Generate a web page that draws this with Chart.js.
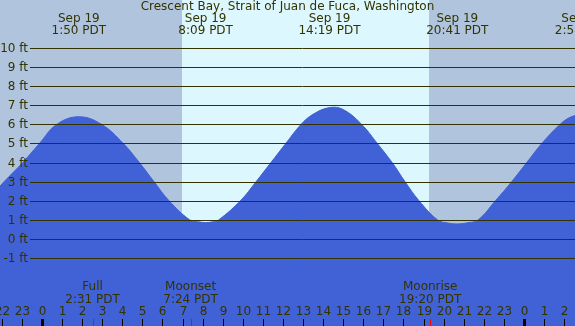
<!DOCTYPE html>
<html>
<head>
<meta charset="utf-8">
<script src="https://cdn.jsdelivr.net/npm/chart.js@4"></script>
<style>
  body { margin: 0; background: #fff; }
  canvas { display: block; }
</style>
</head>
<body>
<canvas id="tideChart" width="575" height="326"></canvas>
<script>
// tide curve (hours after midnight Sep 19, feet)
var tideHours = [-2.1, -1.89, -0.96, -0.13, 0.73, 1.84, 2.97, 4.05, 4.85, 5.58, 6.33, 7.36, 7.8, 8.15, 8.5, 8.8, 9.88, 10.66, 11.4, 12.14, 12.9, 13.5, 14.32, 15.0, 15.92, 16.7, 17.44, 18.08, 18.78, 19.7, 20.2, 20.7, 21.2, 21.72, 22.58, 23.39, 24.14, 24.89, 25.8, 26.3, 26.9];
var tideFeet = [2.75, 3, 4, 5, 6, 6.4, 6, 5, 4, 3, 2, 1, 0.9, 0.86, 0.9, 1, 2, 3, 4, 5, 6, 6.53, 6.88, 6.78, 6, 5, 4, 3, 2, 1, 0.84, 0.79, 0.85, 1, 2, 3, 4, 5, 6, 6.37, 6.55];

// high / low labels at the top
var extremeHours = [1.833, 8.15, 14.317, 20.683, 26.9];
var extremeDates = ["Sep 19", "Sep 19", "Sep 19", "Sep 19", "Sep 20"];
var extremeTimes = ["1:50 PDT", "8:09 PDT", "14:19 PDT", "20:41 PDT", "2:54 PDT"];

// moon events at the bottom
var moonHours = [2.517, 7.4, 19.333];
var moonNames = ["Full", "Moonset", "Moonrise"];
var moonTimes = ["2:31 PDT", "7:24 PDT", "19:20 PDT"];

var sunrise = 6.97;
var sunset = 19.27;
var feetTicks = [-1, 0, 1, 2, 3, 4, 5, 6, 7, 8, 9, 10];
var hourTicks = [-2, -1, 0, 1, 2, 3, 4, 5, 6, 7, 8, 9, 10, 11, 12, 13, 14, 15, 16, 17, 18, 19, 20, 21, 22, 23, 24, 25, 26];

var textColor = "#333300";
var font = "12px 'DejaVu Sans'";

var tidePlugin = {
  id: "tideDecor",
  beforeDatasetsDraw: function (chart) {
    var ctx = chart.ctx, x = chart.scales.x, a = chart.chartArea;
    var sr = Math.round(x.getPixelForValue(sunrise)), ss = Math.round(x.getPixelForValue(sunset));
    ctx.save();
    ctx.fillStyle = "#b0c4de";
    ctx.fillRect(a.left, a.top, a.right - a.left, a.bottom - a.top);
    ctx.fillStyle = "#ddf7ff";
    ctx.fillRect(sr, a.top, ss - sr, a.bottom - a.top);
    ctx.restore();
  },
  afterDatasetsDraw: function (chart) {
    var ctx = chart.ctx, x = chart.scales.x, y = chart.scales.y, a = chart.chartArea;
    ctx.save();
    ctx.font = font;
    ctx.fillStyle = textColor;

    // grid lines + feet labels
    ctx.strokeStyle = textColor;
    ctx.lineWidth = 1;
    feetTicks.forEach(function (f) {
      var py = Math.round(y.getPixelForValue(f)) + 0.5;
      ctx.beginPath();
      ctx.moveTo(30, py);
      ctx.lineTo(a.right, py);
      ctx.stroke();
      ctx.textAlign = "right";
      ctx.textBaseline = "middle";
      ctx.fillText(f + " ft", 28, py);
    });

    // title + extremes
    ctx.textAlign = "center";
    ctx.textBaseline = "middle";
    ctx.fillText("Crescent Bay, Strait of Juan de Fuca, Washington", (a.left + a.right) / 2, 7);
    extremeHours.forEach(function (h, i) {
      var px = x.getPixelForValue(h);
      ctx.fillText(extremeDates[i], px, 19);
      ctx.fillText(extremeTimes[i], px, 31);
    });

    // moon events
    moonHours.forEach(function (h, i) {
      var px = x.getPixelForValue(h);
      ctx.fillText(moonNames[i], px, 287);
      ctx.fillText(moonTimes[i], px, 300);
    });

    // hour ticks
    hourTicks.forEach(function (h) {
      var px = Math.round(x.getPixelForValue(h));
      ctx.fillStyle = "#000";
      if (h % 24 === 0) ctx.fillRect(px - 1, 319, 3, 7);
      else ctx.fillRect(px, 319, 1, 7);
      ctx.fillStyle = textColor;
      ctx.fillText(String((h + 24) % 24), px + 0.5, 312);
    });
    moonHours.forEach(function (h) {
      var px = Math.round(x.getPixelForValue(h));
      ctx.fillStyle = "#ff0000";
      ctx.fillRect(px, 319, 1, 7);
    });
    ctx.restore();
  }
};

var points = tideHours.map(function (h, i) {
  return { x: h, y: tideFeet[i] };
});

new Chart(document.getElementById("tideChart"), {
  type: "line",
  data: {
    datasets: [
      {
        data: points,
        borderColor: "#4161d6",
        backgroundColor: "#4161d6",
        borderWidth: 1,
        fill: "start",
        pointRadius: 0,
        tension: 0.4,
      },
    ],
  },
  options: {
    responsive: false,
    animation: false,
    devicePixelRatio: 1,
    layout: { padding: 0 },
    plugins: { legend: { display: false }, tooltip: { enabled: false } },
    scales: {
      x: { type: "linear", min: -2.092, max: 26.544, display: false },
      y: { min: -4.555, max: 12.513, display: false },
    },
  },
  plugins: [tidePlugin],
});
</script>
</body>
</html>
